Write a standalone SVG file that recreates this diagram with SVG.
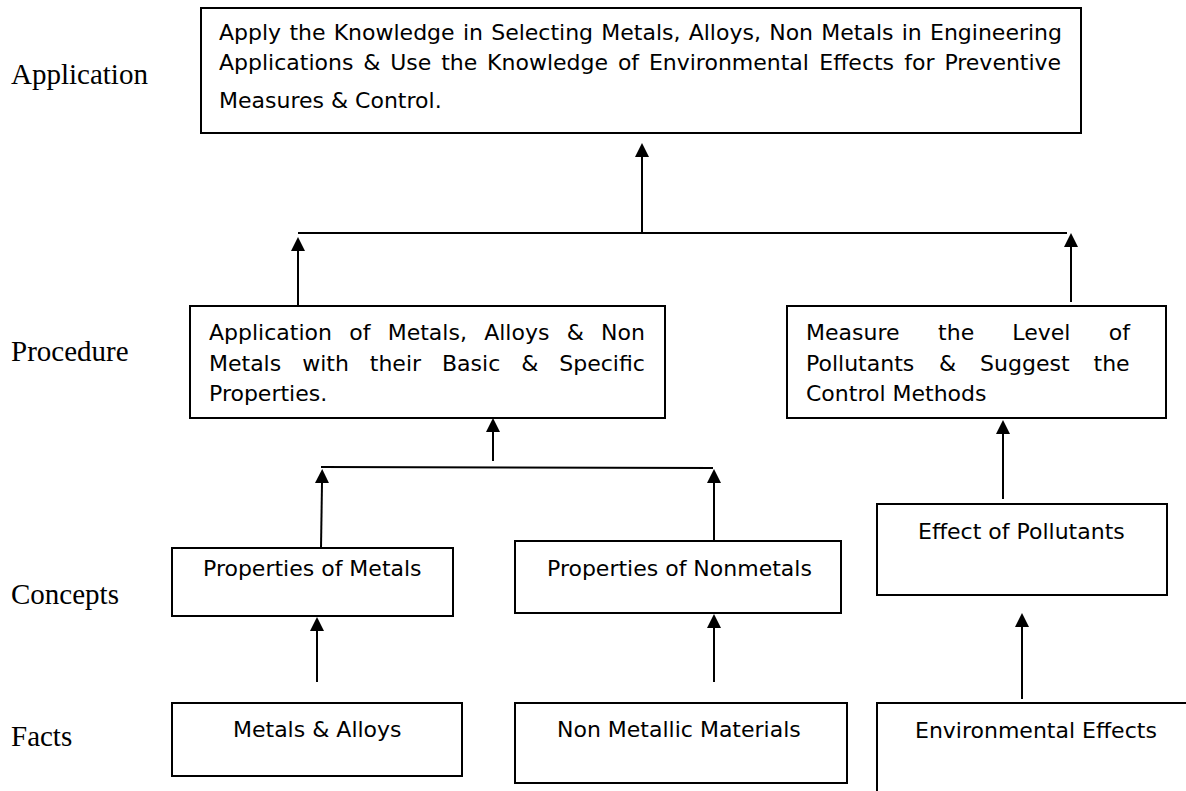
<svg xmlns="http://www.w3.org/2000/svg" width="1186" height="791" viewBox="0 0 1186 791">
  <style>
    .box { fill: #fff; stroke: #000; stroke-width: 2; }
    .txt { font-family: "DejaVu Sans", Verdana, sans-serif; font-size: 22px; fill: #000; }
    .lvl { font-family: "Liberation Serif", "Times New Roman", serif; font-size: 29px; fill: #000; }
    .wire { stroke: #000; stroke-width: 2; fill: none; }
    .arr { stroke: #000; stroke-width: 2; fill: none; marker-end: url(#head); }
  </style>
  <defs>
    <marker id="head" markerUnits="userSpaceOnUse" markerWidth="15" markerHeight="15" refX="0" refY="7" orient="auto">
      <path d="M0,0 L14,7 L0,14 Z" fill="#000"/>
    </marker>
  </defs>

  <rect x="0" y="0" width="1186" height="791" fill="#fff"/>

  <!-- level labels -->
  <g id="levels">
    <text class="lvl" x="11" y="84">Application</text>
    <text class="lvl" x="11" y="361">Procedure</text>
    <text class="lvl" x="11" y="604">Concepts</text>
    <text class="lvl" x="11" y="746">Facts</text>
  </g>

  <!-- connectors -->
  <g id="connectors">
    <line class="wire" x1="298" y1="233" x2="1067" y2="233"/>
    <line class="arr" x1="642" y1="233" x2="642" y2="157"/>
    <line class="arr" x1="298" y1="306" x2="298" y2="251"/>
    <line class="arr" x1="1071" y1="302" x2="1071" y2="247"/>

    <line class="wire" x1="321" y1="467" x2="713" y2="468"/>
    <line class="arr" x1="493" y1="461" x2="493" y2="432"/>
    <line class="arr" x1="1003" y1="499" x2="1003" y2="434"/>
    <line class="arr" x1="321" y1="548" x2="322" y2="483"/>
    <line class="arr" x1="714" y1="555" x2="714" y2="483"/>

    <line class="arr" x1="317" y1="682" x2="317" y2="631"/>
    <line class="arr" x1="714" y1="682" x2="714" y2="628"/>
    <line class="arr" x1="1022" y1="699" x2="1022" y2="627"/>
  </g>

  <!-- application -->
  <g id="application">
    <rect class="box" x="201" y="8" width="880" height="125"/>
    <text class="txt" y="40"><tspan x="219">Apply</tspan><tspan x="289.4">the</tspan><tspan x="333.7">Knowledge</tspan><tspan x="462.9">in</tspan><tspan x="491.2">Selecting</tspan><tspan x="601.3">Metals,</tspan><tspan x="688.7">Alloys,</tspan><tspan x="769.2">Non</tspan><tspan x="821.3">Metals</tspan><tspan x="901.7">in</tspan><tspan x="930">Engineering</tspan></text>
    <text class="txt" y="70"><tspan x="219">Applications</tspan><tspan x="363.3">&amp;</tspan><tspan x="390.2">Use</tspan><tspan x="441.2">the</tspan><tspan x="487.1">Knowledge</tspan><tspan x="617.9">of</tspan><tspan x="648.9">Environmental</tspan><tspan x="819.3">Effects</tspan><tspan x="904.3">for</tspan><tspan x="944.4">Preventive</tspan></text>
    <text class="txt" x="219" y="108">Measures &amp; Control.</text>
  </g>

  <!-- procedure: materials -->
  <g id="proc-materials">
    <rect class="box" x="190" y="306" width="475" height="112"/>
    <text class="txt" y="340"><tspan x="209">Application</tspan><tspan x="349.2">of</tspan><tspan x="387.7">Metals,</tspan><tspan x="484.2">Alloys</tspan><tspan x="566.7">&amp;</tspan><tspan x="601.1">Non</tspan></text>
    <text class="txt" y="370.5"><tspan x="209">Metals</tspan><tspan x="302.2">with</tspan><tspan x="369.8">their</tspan><tspan x="442">Basic</tspan><tspan x="521.2">&amp;</tspan><tspan x="559.3">Specific</tspan></text>
    <text class="txt" x="209" y="401">Properties.</text>
  </g>

  <!-- procedure: pollution -->
  <g id="proc-pollution">
    <rect class="box" x="787" y="306" width="379" height="112"/>
    <text class="txt" y="340"><tspan x="806">Measure</tspan><tspan x="938.1">the</tspan><tspan x="1012.3">Level</tspan><tspan x="1108.8">of</tspan></text>
    <text class="txt" y="370.5"><tspan x="806">Pollutants</tspan><tspan x="939">&amp;</tspan><tspan x="980.1">Suggest</tspan><tspan x="1093.5">the</tspan></text>
    <text class="txt" x="806" y="401">Control Methods</text>
  </g>

  <!-- concepts -->
  <g id="props-metals">
    <rect class="box" x="172" y="548" width="281" height="68"/>
    <text class="txt" x="203" y="576">Properties of Metals</text>
  </g>
  <g id="props-nonmetals">
    <rect class="box" x="515" y="541" width="326" height="72"/>
    <text class="txt" x="547" y="576">Properties of Nonmetals</text>
  </g>
  <g id="effect-pollutants">
    <rect class="box" x="877" y="504" width="290" height="91"/>
    <text class="txt" x="918" y="539">Effect of Pollutants</text>
  </g>

  <!-- facts -->
  <g id="metals-alloys">
    <rect class="box" x="172" y="703" width="290" height="73"/>
    <text class="txt" x="233" y="737">Metals &amp; Alloys</text>
  </g>
  <g id="nonmetallic">
    <rect class="box" x="515" y="703" width="332" height="80"/>
    <text class="txt" x="557" y="737">Non Metallic Materials</text>
  </g>
  <g id="environmental">
    <rect class="box" x="877" y="703" width="400" height="200"/>
    <text class="txt" x="915" y="738">Environmental Effects</text>
  </g>
</svg>
